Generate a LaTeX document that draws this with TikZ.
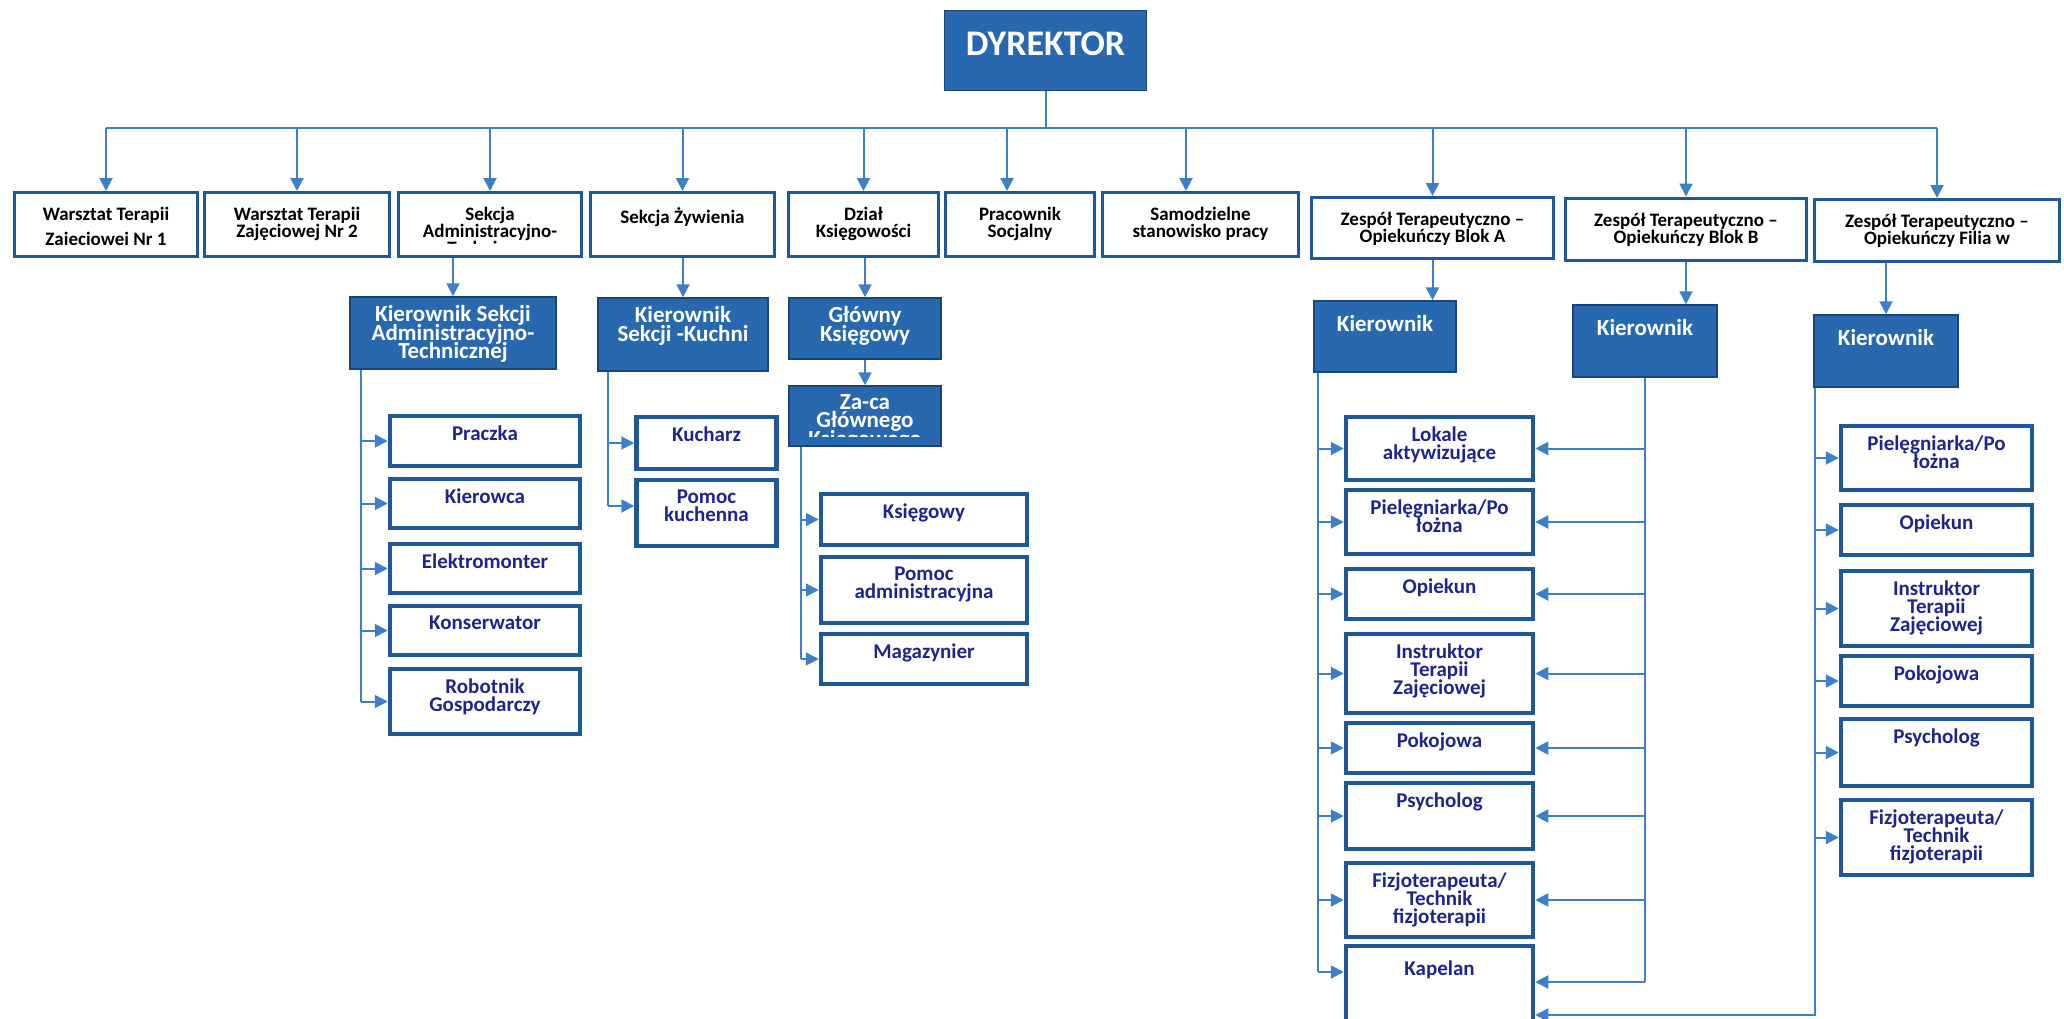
\documentclass[tikz,border=0pt]{standalone}
\usepackage{fontspec}
\setmainfont{Carlito}
\usetikzlibrary{arrows.meta}
\definecolor{boxblue}{RGB}{31,88,150}
\definecolor{headblue}{RGB}{40,104,174}
\definecolor{linkblue}{RGB}{62,128,200}
\definecolor{staffnavy}{RGB}{30,38,140}
\newcommand\topfont{\fontsize{19}{17}\selectfont\bfseries\lineskiplimit=-\maxdimen}
\newcommand\headfont{\fontsize{23}{18.5}\selectfont\bfseries\lineskiplimit=-\maxdimen}
\newcommand\stafffont{\fontsize{21}{18}\selectfont\bfseries\lineskiplimit=-\maxdimen}
\tikzset{
  dircell/.style={draw=boxblue!80!black, line width=1.5pt, fill=headblue, minimum width=202pt, minimum height=80pt, text=white, font=\fontsize{36}{40}\selectfont\bfseries, text depth=14pt},
  topcell/.style={draw=boxblue, line width=3pt, fill=white, minimum height=64pt, inner sep=0pt},
  headcell/.style={draw=boxblue!80!black, line width=1.5pt, fill=headblue, inner sep=0pt},
  staffcell/.style={draw=boxblue, line width=4.5pt, fill=white, inner sep=0pt},
  toptext/.style={anchor=north, yshift=-16pt, inner sep=0pt, align=center, font=\topfont},
  headtext/.style={anchor=north, yshift=-9pt, inner sep=0pt, align=center, text=white, font=\headfont},
  bosstext/.style={anchor=north, yshift=-15pt, inner sep=0pt, align=center, text=white, font=\headfont},
  stafftext/.style={anchor=north, yshift=-12pt, inner sep=0pt, align=center, text=staffnavy, font=\stafffont},
  link/.style={draw=linkblue, line width=2pt},
  linkarrow/.style={link, -{Triangle[length=13pt,width=13pt]}}
}

\begin{document}
\begin{tikzpicture}[x=1pt, y=-1pt]
  \useasboundingbox (0,0) rectangle (2064,1018);
  \fill[white] (0,0) rectangle (2064,1018);
  \clip (0,0) rectangle (2064,1018);

  \node[dircell] (dir) at (1045.5,50.5) {DYREKTOR};

  \node[topcell, minimum width=183pt, label={[toptext, font=\fontsize{19}{25}\selectfont\bfseries]north:Warsztat Terapii\\Zaieciowei Nr 1}] (t1) at (106,224.5) {};
  \node[topcell, minimum width=185pt, label={[toptext]north:Warsztat Terapii\\Zajęciowej Nr 2}] (t2) at (297,224.5) {};
  \node[topcell, minimum width=183pt] (t3) at (490,224.5) {};
  \node[topcell, minimum width=184pt, label={[toptext]north:Sekcja Żywienia}] (t4) at (682.5,224.5) {};
  \node[topcell, minimum width=150pt, label={[toptext]north:Dział\\Księgowości}] (t5) at (863.5,224.5) {};
  \node[topcell, minimum width=149pt, label={[toptext]north:Pracownik\\Socjalny}] (t6) at (1020,224.5) {};
  \node[topcell, minimum width=196pt, label={[toptext]north:Samodzielne\\stanowisko pracy}] (t7) at (1200.5,224.5) {};
  \node[topcell, minimum width=242pt, minimum height=61pt, label={[toptext]north:Zespół Terapeutyczno –\\Opiekuńczy Blok A}] (t8) at (1432.5,228) {};
  \node[topcell, minimum width=241pt, minimum height=62pt, label={[toptext]north:Zespół Terapeutyczno –\\Opiekuńczy Blok B}] (t9) at (1686,229) {};
  \node[topcell, minimum width=245pt, minimum height=62pt, label={[toptext]north:Zespół Terapeutyczno –\\Opiekuńczy Filia w}] (t10) at (1937,230.5) {};

  \node[headcell, minimum width=206pt, minimum height=72pt, label={[headtext]north:Kierownik Sekcji\\Administracyjno-\\Technicznej}] (k1) at (453,333) {};
  \node[headcell, minimum width=170pt, minimum height=73pt, label={[headtext]north:Kierownik\\Sekcji -Kuchni}] (k2) at (683,334.5) {};
  \node[headcell, minimum width=152pt, minimum height=61pt, label={[headtext]north:Główny\\Księgowy}] (k3) at (865,328.5) {};
  \node[headcell, minimum width=152pt, minimum height=60pt] (k4) at (865,416) {};
  \node[headcell, minimum width=142pt, minimum height=71pt, label={[bosstext]north:Kierownik}] (kA) at (1385,336.5) {};
  \node[headcell, minimum width=144pt, minimum height=72pt, label={[bosstext]north:Kierownik}] (kB) at (1645,341) {};
  \node[headcell, minimum width=144pt, minimum height=72pt, label={[bosstext]north:Kierownik}] (kF) at (1886,351) {};

  \node[staffcell, minimum width=190pt, minimum height=50pt, label={[stafftext]north:Praczka}] (a1) at (485,441) {};
  \node[staffcell, minimum width=190pt, minimum height=49pt, label={[stafftext]north:Kierowca}] (a2) at (485,503.5) {};
  \node[staffcell, minimum width=190pt, minimum height=49pt, label={[stafftext]north:Elektromonter}] (a3) at (485,568.5) {};
  \node[staffcell, minimum width=190pt, minimum height=49pt, label={[stafftext]north:Konserwator}] (a4) at (485,630.5) {};
  \node[staffcell, minimum width=190pt, minimum height=65pt, label={[stafftext]north:Robotnik\\Gospodarczy}] (a5) at (485,701.5) {};

  \node[staffcell, minimum width=140pt, minimum height=52pt, label={[stafftext]north:Kucharz}] (b1) at (706.5,443) {};
  \node[staffcell, minimum width=140pt, minimum height=66pt, label={[stafftext]north:Pomoc\\kuchenna}] (b2) at (706.5,513) {};

  \node[staffcell, minimum width=206pt, minimum height=51pt, label={[stafftext]north:Księgowy}] (c1) at (924,519.5) {};
  \node[staffcell, minimum width=206pt, minimum height=66pt, label={[stafftext]north:Pomoc\\administracyjna}] (c2) at (924,590) {};
  \node[staffcell, minimum width=206pt, minimum height=50pt, label={[stafftext]north:Magazynier}] (c3) at (924,659) {};

  \node[staffcell, minimum width=187pt, minimum height=63pt, label={[stafftext]north:Lokale\\aktywizujące}] (d1) at (1439.5,448.5) {};
  \node[staffcell, minimum width=187pt, minimum height=64pt, label={[stafftext]north:Pielęgniarka/Po\\łożna}] (d2) at (1439.5,522) {};
  \node[staffcell, minimum width=187pt, minimum height=50pt, label={[stafftext]north:Opiekun}] (d3) at (1439.5,594) {};
  \node[staffcell, minimum width=187pt, minimum height=79pt, label={[stafftext]north:Instruktor\\Terapii\\Zajęciowej}] (d4) at (1439.5,673.5) {};
  \node[staffcell, minimum width=187pt, minimum height=50pt, label={[stafftext]north:Pokojowa}] (d5) at (1439.5,748) {};
  \node[staffcell, minimum width=187pt, minimum height=66pt, label={[stafftext]north:Psycholog}] (d6) at (1439.5,816) {};
  \node[staffcell, minimum width=187pt, minimum height=74pt] (d7) at (1439.5,900) {};
  \node[staffcell, minimum width=187pt, minimum height=86pt, label={[stafftext, yshift=-5pt]north:Kapelan}] (d8) at (1439.5,989) {};

  \node[staffcell, minimum width=191pt, minimum height=64pt, label={[stafftext]north:Pielęgniarka/Po\\łożna}] (f1) at (1936.5,458) {};
  \node[staffcell, minimum width=191pt, minimum height=50pt, label={[stafftext]north:Opiekun}] (f2) at (1936.5,530) {};
  \node[staffcell, minimum width=191pt, minimum height=75pt, label={[stafftext]north:Instruktor\\Terapii\\Zajęciowej}] (f3) at (1936.5,608.5) {};
  \node[staffcell, minimum width=191pt, minimum height=50pt, label={[stafftext]north:Pokojowa}] (f4) at (1936.5,681) {};
  \node[staffcell, minimum width=191pt, minimum height=67pt, label={[stafftext]north:Psycholog}] (f5) at (1936.5,752.5) {};
  \node[staffcell, minimum width=191pt, minimum height=75pt, label={[stafftext]north:Fizjoterapeuta/\\Technik\\fizjoterapii}] (f6) at (1936.5,837.5) {};

  \begin{scope}
    \clip ([yshift=15pt]t3.south west) rectangle (t3.north east);
    \node[toptext] (t3t) at (t3.north) {Sekcja\\Administracyjno-\\Techniczna};
  \end{scope}
  \begin{scope}
    \clip ([yshift=10pt]k4.south west) rectangle (k4.north east);
    \node[headtext] (k4t) at (k4.north) {Za-ca\\Głównego\\Księgowego};
  \end{scope}
  \begin{scope}
    \clip ([yshift=13pt]d7.south west) rectangle (d7.north east);
    \node[stafftext] (d7t) at (d7.north) {Fizjoterapeuta/\\Technik\\fizjoterapii};
  \end{scope}

  \coordinate (bus) at (1045.5,128);
  \coordinate (t6in) at ([xshift=-13pt]t6.north);
  \coordinate (t7in) at ([xshift=-14.5pt]t7.north);
  \draw[link] (dir.south) -- (bus);
  \draw[link] (t1.north |- bus) -- (t10.north |- bus);
  \draw[linkarrow] (t1.north |- bus) -- (t1.north);
  \draw[linkarrow] (t2.north |- bus) -- (t2.north);
  \draw[linkarrow] (t3.north |- bus) -- (t3.north);
  \draw[linkarrow] (t4.north |- bus) -- (t4.north);
  \draw[linkarrow] (t5.north |- bus) -- (t5.north);
  \draw[linkarrow] (t6in |- bus) -- (t6in);
  \draw[linkarrow] (t7in |- bus) -- (t7in);
  \draw[linkarrow] (t8.north |- bus) -- (t8.north);
  \draw[linkarrow] (t9.north |- bus) -- (t9.north);
  \draw[linkarrow] (t10.north |- bus) -- (t10.north);

  \draw[linkarrow] (t3.south -| k1.north) -- (k1.north);
  \draw[linkarrow] (t4.south -| k2.north) -- (k2.north);
  \draw[linkarrow] (t5.south -| k3.north) -- (k3.north);
  \draw[linkarrow] (k3.south) -- (k4.north);
  \draw[linkarrow] (t8.south) -- (t8.south |- kA.north);
  \draw[linkarrow] (t9.south) -- (t9.south |- kB.north);
  \draw[linkarrow] (t10.south -| kF.north) -- (kF.north);

  \coordinate (aspine) at ([xshift=12pt]k1.south west);
  \draw[link] (aspine) -- (aspine |- a5.west);
  \draw[linkarrow] (aspine |- a1.west) -- (a1.west);
  \draw[linkarrow] (aspine |- a2.west) -- (a2.west);
  \draw[linkarrow] (aspine |- a3.west) -- (a3.west);
  \draw[linkarrow] (aspine |- a4.west) -- (a4.west);
  \draw[linkarrow] (aspine |- a5.west) -- (a5.west);

  \coordinate (bspine) at ([xshift=11pt]k2.south west);
  \coordinate (b2in) at ([yshift=7pt]b2.west);
  \draw[link] (bspine) -- (bspine |- b2in);
  \draw[linkarrow] (bspine |- b1.west) -- (b1.west);
  \draw[linkarrow] (bspine |- b2in) -- (b2in);

  \coordinate (cspine) at ([xshift=13pt]k4.south west);
  \draw[link] (cspine) -- (cspine |- c3.west);
  \draw[linkarrow] (cspine |- c1.west) -- (c1.west);
  \draw[linkarrow] (cspine |- c2.west) -- (c2.west);
  \draw[linkarrow] (cspine |- c3.west) -- (c3.west);

  \coordinate (dspine) at ([xshift=5pt]kA.south west);
  \coordinate (kapA) at ([yshift=17pt]d8.west);
  \coordinate (kapB) at ([yshift=7pt]d8.east);
  \coordinate (kapF) at ([yshift=-26pt]d8.east);
  \draw[link] (dspine) -- (dspine |- kapA);
  \draw[linkarrow] (dspine |- d1.west) -- (d1.west);
  \draw[linkarrow] (dspine |- d2.west) -- (d2.west);
  \draw[linkarrow] (dspine |- d3.west) -- (d3.west);
  \draw[linkarrow] (dspine |- d4.west) -- (d4.west);
  \draw[linkarrow] (dspine |- d5.west) -- (d5.west);
  \draw[linkarrow] (dspine |- d6.west) -- (d6.west);
  \draw[linkarrow] (dspine |- d7.west) -- (d7.west);
  \draw[linkarrow] (dspine |- kapA) -- (kapA);

  \draw[link] (kB.south) -- (kB.south |- kapB);
  \draw[linkarrow] (kB.south |- d1.east) -- (d1.east);
  \draw[linkarrow] (kB.south |- d2.east) -- (d2.east);
  \draw[linkarrow] (kB.south |- d3.east) -- (d3.east);
  \draw[linkarrow] (kB.south |- d4.east) -- (d4.east);
  \draw[linkarrow] (kB.south |- d5.east) -- (d5.east);
  \draw[linkarrow] (kB.south |- d6.east) -- (d6.east);
  \draw[linkarrow] (kB.south |- d7.east) -- (d7.east);
  \draw[linkarrow] (kB.south |- kapB) -- (kapB);

  \coordinate (fspine) at ([xshift=2pt]kF.south west);
  \draw[linkarrow] (fspine) |- (kapF);
  \draw[linkarrow] (fspine |- f1.west) -- (f1.west);
  \draw[linkarrow] (fspine |- f2.west) -- (f2.west);
  \draw[linkarrow] (fspine |- f3.west) -- (f3.west);
  \draw[linkarrow] (fspine |- f4.west) -- (f4.west);
  \draw[linkarrow] (fspine |- f5.west) -- (f5.west);
  \draw[linkarrow] (fspine |- f6.west) -- (f6.west);
\end{tikzpicture}
\end{document}
